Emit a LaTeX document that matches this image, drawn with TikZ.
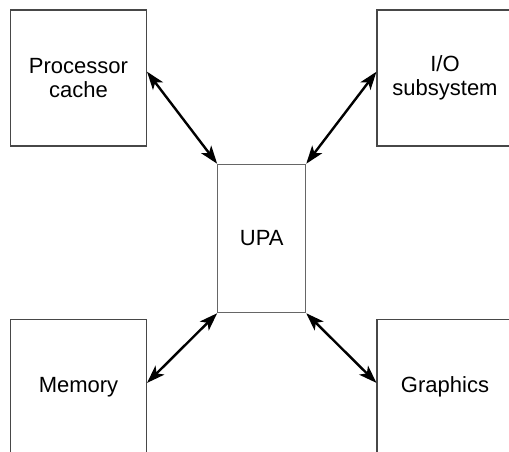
\documentclass[tikz,border=0pt]{standalone}
\usepackage{fontspec}
\setmainfont{Liberation Sans}
\usetikzlibrary{arrows.meta,calc}

\tikzset{
  unit/.style={draw=black!72, line width=1.1pt, rectangle, inner sep=0pt,
    align=center, font=\fontsize{22}{23.5}\selectfont},
  sidebox/.style={unit, minimum width=136pt, minimum height=136pt},
  hubbox/.style={unit, draw=black!60, minimum width=88pt, minimum height=148.4pt},
  link/.style={line width=2.4pt,
    {Stealth[length=18pt,width=12.5pt,inset=4.5pt]}-{Stealth[length=18pt,width=12.5pt,inset=4.5pt]}}
}

\begin{document}
\begin{tikzpicture}[x=1pt, y=-1pt]
  \useasboundingbox (0,0) rectangle (509,452);
  \clip (0,0) rectangle (509,452);

  % central bus and the four units around it
  \node[hubbox]  (upa) at (261.7,238.5) {UPA};
  \node[sidebox] (pc)  at (78.5,78)     {Processor\\cache};
  \node[sidebox] (io)  at (445,78)      {I/O\\subsystem};
  \node[sidebox] (mem) at (78.5,387.3)  {Memory};
  \node[sidebox] (gfx) at (445,387.3)   {Graphics};

  % ports on the facing sides of the units
  \coordinate (pcport)  at ([yshift=6.3pt]pc.east);
  \coordinate (ioport)  at ([yshift=6.3pt]io.west);
  \coordinate (memport) at ([yshift=4.4pt]mem.east);
  \coordinate (gfxport) at ([yshift=4.4pt]gfx.west);

  % bidirectional links to the corners of the bus
  \draw[link] (pcport)  -- (upa.north west);
  \draw[link] (ioport)  -- (upa.north east);
  \draw[link] (memport) -- (upa.south west);
  \draw[link] (gfxport) -- (upa.south east);
\end{tikzpicture}
\end{document}
